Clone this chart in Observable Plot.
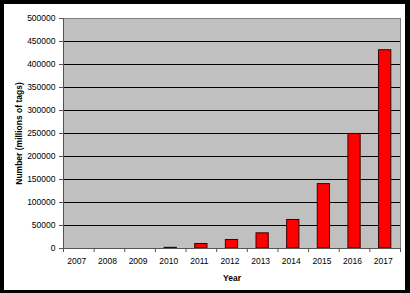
<!DOCTYPE html>
<html>
<head>
<meta charset="utf-8">
<script src="https://cdn.jsdelivr.net/npm/d3@7"></script>
<script src="https://cdn.jsdelivr.net/npm/@observablehq/plot@0.6"></script>
<style>
  html, body { margin: 0; padding: 0; background: #000; }
  #wrap {
    width: 401px; height: 286px;
    border-left: 4px solid #000; border-top: 4px solid #000;
    border-right: 5px solid #000; border-bottom: 3px solid #000;
    background: #fff; overflow: hidden;
  }
  #wrap svg { display: block; background: #fff; }
  g[aria-label="x-axis label"] text, g[aria-label="y-axis label"] text { font-weight: bold; }
</style>
</head>
<body>
<div id="wrap"></div>
<script>
const years = [2007, 2008, 2009, 2010, 2011, 2012, 2013, 2014, 2015, 2016, 2017];
const values = [0, 0, 0, 1500, 9800, 18500, 33000, 62000, 140000, 249000, 431000];
const yTicks = [0, 50000, 100000, 150000, 200000, 250000, 300000, 350000, 400000, 450000, 500000];
const xTitle = "Year";
const yTitle = "Number (millions of tags)";

const data = years.map((year, i) => ({year, value: values[i]})).filter(d => d.value > 0);
const boundaries = [years[0] - 0.5, ...years.map(y => y + 0.5)];
const gridTicks = yTicks.filter(t => t > 0 && t < yTicks[yTicks.length - 1]);

const chart = Plot.plot({
  width: 401,
  height: 286,
  marginLeft: 59,
  marginRight: 5,
  marginTop: 14,
  marginBottom: 42,
  style: {fontFamily: "'Liberation Sans', Arial, sans-serif", fontSize: "8.5px", color: "#000", background: "#fff"},
  x: {type: "linear", domain: [boundaries[0], boundaries[boundaries.length - 1]]},
  y: {domain: [0, yTicks[yTicks.length - 1]]},
  marks: [
    Plot.frame({fill: "#c0c0c0"}),
    Plot.ruleY(gridTicks, {stroke: "#000", strokeWidth: 1}),
    Plot.rectY(data, {x1: d => d.year - 0.2, x2: d => d.year + 0.2, y: "value", fill: "#ff0000", stroke: "#3a0000", strokeWidth: 1}),
    Plot.frame({stroke: "#808080"}),
    Plot.ruleX([boundaries[0]], {stroke: "#555"}),
    Plot.ruleY([0], {stroke: "#555"}),
    Plot.axisY({ticks: yTicks, tickFormat: d3.format("d"), tickSize: 4, tickPadding: 4, stroke: "#555",
      label: yTitle, labelAnchor: "center", labelArrow: "none", labelOffset: 48}),
    Plot.axisX({ticks: years, tickFormat: d3.format("d"), tickSize: 0, tickPadding: 9, dx: -2,
      label: xTitle, labelAnchor: "center", labelArrow: "none", labelOffset: 32}),
    Plot.axisX({ticks: boundaries, tickFormat: () => "", tickSize: 4, stroke: "#555", label: null})
  ]
});
document.getElementById("wrap").appendChild(chart);
</script>
</body>
</html>
